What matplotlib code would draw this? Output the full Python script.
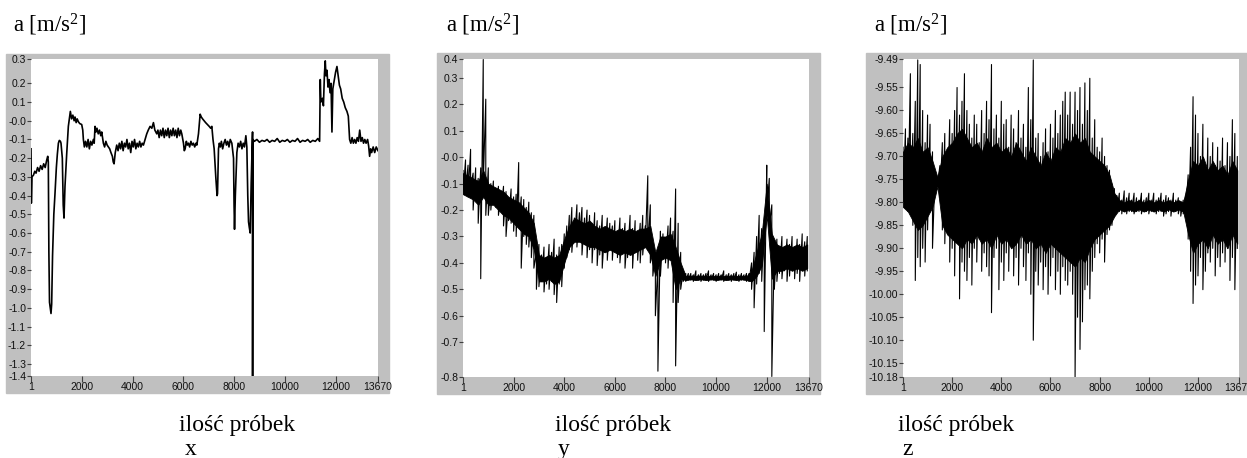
import numpy as np
import matplotlib
matplotlib.use("Agg")
import matplotlib.pyplot as plt
from matplotlib.patches import Rectangle

W, H = 1247, 458  # rozmiar obrazka w pikselach

# ---------------- dane ----------------
# kanal x: numer probki / przyspieszenie
x_samples = [1, 15, 40, 100, 150, 200, 260, 320, 380, 440, 500, 560, 620, 660,
             683, 705, 730, 760, 789, 815, 850, 900, 946, 1000, 1038, 1080, 1117,
             1160, 1183, 1235, 1270, 1301, 1340, 1406, 1472, 1520, 1551, 1600, 1650,
             1700, 1735, 1780, 1820, 1866, 1920, 1998, 2040, 2064, 2103, 2150, 2200,
             2250, 2300, 2350, 2400, 2458, 2490, 2524, 2560, 2600, 2650, 2700, 2750,
             2787, 2852, 2900, 2950, 3000, 3049, 3100, 3150, 3207, 3240, 3273, 3320,
             3378, 3430, 3480, 3530, 3580, 3630, 3680, 3730, 3780, 3830, 3880, 3930,
             3980, 4030, 4080, 4130, 4180, 4230, 4280, 4330, 4380, 4430, 4495, 4560,
             4620, 4692, 4760, 4824, 4880, 4955, 5000, 5050, 5100, 5150, 5200, 5250,
             5300, 5350, 5400, 5450, 5500, 5550, 5600, 5650, 5700, 5750, 5800, 5850,
             5900, 5941, 6007, 6040, 6073, 6120, 6160, 6204, 6250, 6300, 6350, 6400,
             6450, 6500, 6533, 6598, 6640, 6664, 6710, 6760, 6820, 6880, 6950, 7020,
             7080, 7124, 7170, 7216, 7280, 7330, 7348, 7387, 7420, 7460, 7500, 7550,
             7600, 7650, 7700, 7750, 7800, 7850, 7913, 7979, 8000, 8018, 8050, 8110,
             8160, 8210, 8260, 8310, 8360, 8410, 8465, 8504, 8540, 8570, 8600, 8636,
             8675, 8700, 8728, 8730, 8740, 8800, 8900, 9000, 9100, 9200, 9300, 9400,
             9500, 9600, 9700, 9800, 9900, 10000, 10100, 10200, 10300, 10400, 10500,
             10600, 10700, 10800, 10900, 11000, 11100, 11200, 11300, 11370, 11396,
             11420, 11480, 11520, 11560, 11593, 11620, 11660, 11700, 11740, 11780,
             11820, 11856, 11890, 11950, 12000, 12053, 12100, 12150, 12200, 12260,
             12320, 12380, 12447, 12500, 12552, 12600, 12650, 12700, 12750, 12800,
             12850, 12900, 12950, 13000, 13050, 13100, 13150, 13200, 13260, 13302,
             13340, 13380, 13420, 13480, 13540, 13600, 13670]
x_values = [-0.15, -0.44, -0.30, -0.29, -0.27, -0.28, -0.25, -0.27, -0.24, -0.26,
            -0.23, -0.25, -0.21, -0.19, -0.22, -0.70, -0.97, -1.00, -1.03, -0.98,
            -0.72, -0.50, -0.39, -0.25, -0.18, -0.12, -0.105, -0.11, -0.12, -0.20,
            -0.45, -0.52, -0.35, -0.18, -0.03, 0.02, 0.05, 0.01, 0.03, 0.0, 0.02,
            -0.01, 0.01, -0.005, -0.015, -0.02, -0.05, -0.10, -0.14, -0.11, -0.14,
            -0.10, -0.15, -0.11, -0.13, -0.10, -0.12, -0.03, -0.06, -0.04, -0.07,
            -0.05, -0.08, -0.06, -0.12, -0.14, -0.11, -0.13, -0.14, -0.15, -0.17,
            -0.19, -0.22, -0.23, -0.17, -0.13, -0.16, -0.12, -0.15, -0.11, -0.16,
            -0.12, -0.14, -0.10, -0.15, -0.12, -0.17, -0.11, -0.14, -0.10, -0.15,
            -0.12, -0.14, -0.11, -0.14, -0.12, -0.13, -0.10, -0.07, -0.05, -0.03,
            -0.04, -0.01, -0.05, -0.07, -0.05, -0.09, -0.05, -0.08, -0.04, -0.09,
            -0.05, -0.08, -0.04, -0.09, -0.05, -0.08, -0.04, -0.08, -0.05, -0.09,
            -0.04, -0.08, -0.05, -0.07, -0.12, -0.16, -0.15, -0.11, -0.13, -0.12,
            -0.14, -0.11, -0.13, -0.12, -0.14, -0.12, -0.13, -0.07, 0.0, 0.035,
            0.02, 0.01, 0.0, -0.01, -0.02, -0.03, -0.04, -0.03, -0.10, -0.15,
            -0.30, -0.40, -0.39, -0.15, -0.12, -0.14, -0.11, -0.15, -0.12, -0.10,
            -0.13, -0.11, -0.14, -0.10, -0.12, -0.20, -0.45, -0.58, -0.40, -0.17,
            -0.12, -0.14, -0.11, -0.15, -0.12, -0.14, -0.08, -0.14, -0.40, -0.54,
            -0.57, -0.60, -0.33, -0.20, -0.06, -1.40, -0.10, -0.11, -0.10, -0.115,
            -0.105, -0.11, -0.10, -0.115, -0.105, -0.11, -0.095, -0.115, -0.105,
            -0.11, -0.10, -0.115, -0.105, -0.11, -0.095, -0.115, -0.105, -0.11,
            -0.10, -0.115, -0.105, -0.11, -0.095, -0.11, 0.22, 0.10, 0.12, 0.08,
            0.25, 0.32, 0.24, 0.27, 0.18, 0.22, 0.15, 0.20, -0.06, 0.17, 0.22, 0.26,
            0.29, 0.24, 0.19, 0.17, 0.12, 0.10, 0.07, 0.05, 0.025, -0.10, -0.12,
            -0.09, -0.12, -0.10, -0.12, -0.09, -0.11, -0.05, -0.11, -0.09, -0.12,
            -0.10, -0.12, -0.10, -0.135, -0.19, -0.15, -0.17, -0.14, -0.17, -0.14,
            -0.16]

# kanal y: co 100 probek skrajne wartosci szumu (gora / dol)
y_step = 100
y_hi = [-0.05, -0.01, -0.03, 0.03, -0.06, -0.04, -0.08, -0.04, 0.37, 0.22,
        -0.04, -0.10, -0.09, -0.12, -0.11, -0.14, -0.11, -0.13, -0.16, -0.12,
        -0.15, -0.14, -0.02, -0.15, -0.16, -0.19, -0.17, -0.21, -0.22, -0.36,
        -0.33, -0.37, -0.34, -0.38, -0.33, -0.36, -0.31, -0.37, -0.34, -0.33,
        -0.29, -0.26, -0.22, -0.19, -0.23, -0.18, -0.21, -0.19, -0.23, -0.20,
        -0.22, -0.25, -0.21, -0.24, -0.26, -0.22, -0.27, -0.23, -0.25, -0.26,
        -0.24, -0.28, -0.23, -0.27, -0.25, -0.29, -0.22, -0.27, -0.24, -0.28,
        -0.25, -0.22, -0.26, -0.07, -0.18, -0.33, -0.36, -0.40, -0.28, -0.29,
        -0.31, -0.26, -0.23, -0.28, -0.12, -0.25, -0.36, -0.43, -0.44, -0.44,
        -0.44, -0.445, -0.43, -0.445, -0.44, -0.445, -0.44, -0.43, -0.445, -0.44,
        -0.445, -0.44, -0.445, -0.43, -0.445, -0.44, -0.445, -0.44, -0.435, -0.445,
        -0.44, -0.445, -0.44, -0.44, -0.40, -0.36, -0.30, -0.22, -0.27, -0.25,
        -0.03, -0.08, -0.18, -0.33, -0.31, -0.35, -0.30, -0.34, -0.31, -0.33,
        -0.30, -0.34, -0.31, -0.33, -0.29, -0.32, -0.30]
y_lo = [-0.14, -0.12, -0.15, -0.11, -0.20, -0.16, -0.25, -0.46, -0.10, -0.22,
        -0.22, -0.20, -0.16, -0.19, -0.22, -0.20, -0.26, -0.30, -0.24, -0.25,
        -0.28, -0.30, -0.26, -0.42, -0.30, -0.33, -0.34, -0.38, -0.42, -0.50,
        -0.49, -0.47, -0.51, -0.48, -0.50, -0.47, -0.52, -0.55, -0.48, -0.49,
        -0.42, -0.38, -0.35, -0.36, -0.32, -0.34, -0.30, -0.37, -0.33, -0.38,
        -0.35, -0.40, -0.35, -0.41, -0.37, -0.42, -0.36, -0.39, -0.34, -0.39,
        -0.36, -0.38, -0.40, -0.36, -0.42, -0.38, -0.35, -0.42, -0.36, -0.39,
        -0.40, -0.37, -0.34, -0.35, -0.40, -0.45, -0.60, -0.81, -0.45, -0.38,
        -0.40, -0.42, -0.37, -0.55, -0.79, -0.55, -0.50, -0.47, -0.47, -0.465,
        -0.465, -0.47, -0.465, -0.465, -0.47, -0.465, -0.465, -0.47, -0.465, -0.465,
        -0.47, -0.465, -0.465, -0.47, -0.465, -0.465, -0.47, -0.465, -0.465, -0.47,
        -0.465, -0.465, -0.47, -0.47, -0.50, -0.57, -0.48, -0.44, -0.47, -0.66,
        -0.20, -0.26, -0.83, -0.50, -0.47, -0.44, -0.46, -0.43, -0.47, -0.45,
        -0.42, -0.46, -0.44, -0.47, -0.41, -0.45, -0.43]
# gesty rdzen pasma szumu, co 200 probek
core_step = 200
y_core_hi = [-0.06, -0.07, -0.08, -0.09, -0.05, -0.10, -0.11, -0.12, -0.13, -0.15,
             -0.16, -0.17, -0.19, -0.21, -0.25, -0.37, -0.38, -0.37, -0.38, -0.37,
             -0.31, -0.26, -0.23, -0.24, -0.25, -0.24, -0.26, -0.27, -0.26, -0.27,
             -0.28, -0.27, -0.28, -0.27, -0.28, -0.27, -0.27, -0.26, -0.36, -0.30,
             -0.30, -0.29, -0.34, -0.40, -0.45, -0.448, -0.45, -0.448, -0.45, -0.448,
             -0.45, -0.448, -0.45, -0.448, -0.45, -0.448, -0.45, -0.43, -0.36, -0.29,
             -0.10, -0.29, -0.33, -0.34, -0.33, -0.34, -0.33, -0.34, -0.33]
y_core_lo = [-0.14, -0.15, -0.16, -0.18, -0.15, -0.18, -0.18, -0.20, -0.22, -0.23,
             -0.25, -0.27, -0.29, -0.30, -0.35, -0.47, -0.47, -0.46, -0.48, -0.47,
             -0.40, -0.34, -0.32, -0.32, -0.33, -0.34, -0.34, -0.35, -0.36, -0.35,
             -0.36, -0.37, -0.36, -0.37, -0.36, -0.35, -0.34, -0.37, -0.45, -0.39,
             -0.38, -0.39, -0.50, -0.46, -0.465, -0.462, -0.465, -0.462, -0.465, -0.462,
             -0.465, -0.462, -0.465, -0.462, -0.465, -0.462, -0.465, -0.47, -0.45, -0.41,
             -0.22, -0.46, -0.43, -0.43, -0.42, -0.43, -0.42, -0.43, -0.42]

# kanal z
z_step = 100
z_hi = [-9.68, -9.64, -9.66, -9.52, -9.65, -9.58, -9.49, -9.50, -9.60, -9.67,
        -9.61, -9.63, -9.69, -9.74, -9.745, -9.72, -9.67, -9.65, -9.69, -9.62,
        -9.65, -9.60, -9.55, -9.61, -9.58, -9.52, -9.60, -9.63, -9.66, -9.61,
        -9.63, -9.67, -9.60, -9.65, -9.58, -9.62, -9.50, -9.64, -9.61, -9.66,
        -9.58, -9.63, -9.62, -9.68, -9.61, -9.64, -9.67, -9.60, -9.66, -9.63,
        -9.68, -9.55, -9.62, -9.49, -9.66, -9.65, -9.70, -9.67, -9.64, -9.69,
        -9.63, -9.66, -9.60, -9.65, -9.61, -9.58, -9.56, -9.61, -9.56, -9.63,
        -9.56, -9.60, -9.55, -9.63, -9.54, -9.60, -9.53, -9.66, -9.62, -9.68,
        -9.69, -9.66, -9.70, -9.72, -9.73, -9.76, -9.77, -9.785, -9.78, -9.795,
        -9.775, -9.79, -9.78, -9.795, -9.78, -9.79, -9.795, -9.78, -9.795, -9.79,
        -9.78, -9.795, -9.78, -9.795, -9.79, -9.78, -9.795, -9.785, -9.79, -9.795,
        -9.78, -9.795, -9.79, -9.80, -9.795, -9.785, -9.74, -9.68, -9.57, -9.61,
        -9.65, -9.70, -9.63, -9.72, -9.66, -9.70, -9.67, -9.72, -9.68, -9.71,
        -9.66, -9.72, -9.67, -9.70, -9.62, -9.65, -9.70]
z_lo = [-9.80, -9.79, -9.82, -9.80, -9.85, -9.97, -9.92, -9.94, -9.90, -9.93,
        -9.86, -9.82, -9.90, -9.77, -9.765, -9.79, -9.86, -9.89, -9.84, -9.93,
        -9.90, -9.96, -9.88, -10.01, -9.93, -9.95, -9.97, -9.92, -9.98, -9.90,
        -9.93, -9.88, -9.95, -9.91, -9.94, -9.96, -10.04, -9.92, -9.90, -9.99,
        -9.93, -9.97, -9.91, -9.95, -9.89, -9.96, -9.92, -9.98, -9.90, -9.94,
        -9.97, -9.91, -10.00, -10.10, -9.95, -9.98, -9.93, -9.99, -9.94, -10.00,
        -9.96, -9.92, -9.99, -9.95, -10.00, -9.94, -9.97, -9.98, -9.95, -10.00,
        -10.18, -10.05, -10.12, -10.06, -9.99, -9.98, -10.01, -9.95, -9.92, -9.89,
        -9.91, -9.88, -9.93, -9.87, -9.86, -9.85, -9.83, -9.82, -9.82, -9.825,
        -9.82, -9.825, -9.82, -9.82, -9.825, -9.82, -9.82, -9.825, -9.82, -9.82,
        -9.825, -9.82, -9.82, -9.825, -9.82, -9.82, -9.83, -9.825, -9.82, -9.83,
        -9.82, -9.82, -9.825, -9.83, -9.825, -9.82, -9.88, -9.95, -10.02, -9.98,
        -9.96, -9.92, -9.99, -9.95, -9.91, -9.93, -9.90, -9.96, -9.92, -9.94,
        -9.91, -9.93, -9.90, -9.97, -9.92, -9.99, -9.90]
z_core_hi = [-9.69, -9.67, -9.68, -9.66, -9.69, -9.68, -9.71, -9.745, -9.70, -9.68,
             -9.67, -9.65, -9.64, -9.66, -9.68, -9.67, -9.69, -9.66, -9.68, -9.67,
             -9.69, -9.68, -9.70, -9.67, -9.69, -9.71, -9.68, -9.70, -9.72, -9.69,
             -9.71, -9.68, -9.69, -9.66, -9.67, -9.65, -9.67, -9.66, -9.69, -9.70,
             -9.71, -9.72, -9.74, -9.78, -9.795, -9.80, -9.795, -9.80, -9.795, -9.80,
             -9.795, -9.80, -9.795, -9.80, -9.795, -9.80, -9.795, -9.80, -9.75, -9.71,
             -9.72, -9.70, -9.73, -9.71, -9.73, -9.72, -9.74, -9.71, -9.73]
z_core_lo = [-9.81, -9.82, -9.84, -9.86, -9.85, -9.83, -9.81, -9.765, -9.85, -9.87,
             -9.88, -9.89, -9.90, -9.88, -9.89, -9.87, -9.89, -9.88, -9.90, -9.87,
             -9.89, -9.88, -9.90, -9.89, -9.87, -9.89, -9.88, -9.90, -9.89, -9.91,
             -9.89, -9.90, -9.91, -9.92, -9.93, -9.94, -9.92, -9.93, -9.90, -9.88,
             -9.87, -9.86, -9.85, -9.83, -9.815, -9.82, -9.815, -9.82, -9.815, -9.82,
             -9.815, -9.82, -9.815, -9.82, -9.815, -9.82, -9.815, -9.82, -9.87, -9.91,
             -9.89, -9.88, -9.90, -9.87, -9.89, -9.88, -9.90, -9.87, -9.89]

# osie
x_ticks = [1, 2000, 4000, 6000, 8000, 10000, 12000, 13670]
x_ticklabels = ["1", "2000", "4000", "6000", "8000", "10000", "12000", "13670"]

ax_x_ylim = (-1.364, 0.330)
ax_x_yticks = [-1.364, -1.3, -1.2, -1.1, -1.0, -0.9, -0.8, -0.7, -0.6, -0.5, -0.4,
               -0.3, -0.2, -0.1, 0.0, 0.1, 0.2, 0.330]
ax_x_ylabels = ["-1.4", "-1.3", "-1.2", "-1.1", "-1.0", "-0.9", "-0.8", "-0.7", "-0.6",
                "-0.5", "-0.4", "-0.3", "-0.2", "-0.1", "-0.0", "0.1", "0.2", "0.3"]

ax_y_ylim = (-0.832, 0.372)
ax_y_yticks = [-0.832, -0.7, -0.6, -0.5, -0.4, -0.3, -0.2, -0.1, 0.0, 0.1, 0.2, 0.3, 0.372]
ax_y_ylabels = ["-0.8", "-0.7", "-0.6", "-0.5", "-0.4", "-0.3", "-0.2", "-0.1", "-0.0",
                "0.1", "0.2", "0.3", "0.4"]

ax_z_ylim = (-10.18, -9.488)
ax_z_yticks = [-10.18, -10.15, -10.10, -10.05, -10.00, -9.95, -9.90, -9.85, -9.80,
               -9.75, -9.70, -9.65, -9.60, -9.55, -9.488]
ax_z_ylabels = ["-10.18", "-10.15", "-10.10", "-10.05", "-10.00", "-9.95", "-9.90",
                "-9.85", "-9.80", "-9.75", "-9.70", "-9.65", "-9.60", "-9.55", "-9.49"]

axis_names = ["x", "y", "z"]

plt.rcParams['mathtext.fontset'] = 'custom'
plt.rcParams['mathtext.rm'] = 'Liberation Serif'
plt.rcParams['mathtext.it'] = 'Liberation Serif:italic'


def frac(l, t, r, b):
    # piksele -> ulamki figury
    return [l / W, 1 - b / H, (r - l) / W, (b - t) / H]


def zigzag(step, hi, lo):
    # kazda probka to pionowa kreska od gory do dolu szumu
    s = 1 + step * np.arange(len(hi))
    return np.repeat(s, 2), np.column_stack([hi, lo]).ravel()


def core(ax, hi, lo):
    s = 1 + core_step * np.arange(len(hi))
    ax.fill_between(s, hi, lo, color='black', lw=0.6, edgecolor='black')


fig = plt.figure(figsize=(W / 100, H / 100), dpi=100)
fig.patch.set_facecolor('white')

# ramki (szare tlo) i pola wykresow w pikselach
frames = [(6, 54, 389, 393), (437, 53, 820, 394), (866, 53, 1250, 394)]
boxes = [(31, 59, 378, 376), (463, 59, 809, 377), (903, 59, 1239, 377)]
top_lbl_x = [13, 446, 874]
bottom_lbl_x = [179, 555, 898]
name_lbl_x = [185, 558, 902]

axes = []
for i in range(3):
    l, t, r, b = frames[i]
    fig.add_artist(Rectangle((l / W, 1 - b / H), (r - l) / W, (b - t) / H,
                             transform=fig.transFigure, color='#c0c0c0', zorder=-1))
    ax = fig.add_axes(frac(*boxes[i]))
    ax.set_facecolor('white')
    for sp in ax.spines.values():
        sp.set_visible(False)
    ax.set_xlim(1, 13670)
    ax.set_xticks(x_ticks)
    ax.set_xticklabels(x_ticklabels)
    ax.tick_params(axis='both', direction='out', color='#404040', width=0.8,
                   labelsize=7.5, labelcolor='#101010')
    ax.tick_params(axis='x', length=4, pad=0.5)
    ax.tick_params(axis='y', length=3, pad=0.5)
    for lab in ax.get_xticklabels():
        lab.set_family('Liberation Sans')
    axes.append(ax)

    fig.text(top_lbl_x[i] / W, 1 - 32 / H, r"a [m/s$^{2}$]", fontsize=16.5,
             family='Liberation Serif', va='baseline')
    fig.text(bottom_lbl_x[i] / W, 1 - 431 / H, "ilość próbek", fontsize=17,
             family='Liberation Serif', va='baseline')
    fig.text(name_lbl_x[i] / W, 1 - 455 / H, axis_names[i], fontsize=17,
             family='Liberation Serif', va='baseline')

# kanal x
ax = axes[0]
ax.plot(x_samples, x_values, color='black', lw=1.2)
ax.set_ylim(*ax_x_ylim)
ax.set_yticks(ax_x_yticks)
ax.set_yticklabels(ax_x_ylabels, family='Liberation Sans')

# kanal y
ax = axes[1]
core(ax, y_core_hi, y_core_lo)
xs, ys = zigzag(y_step, y_hi, y_lo)
ax.plot(xs, ys, color='black', lw=0.8)
ax.set_ylim(*ax_y_ylim)
ax.set_yticks(ax_y_yticks)
ax.set_yticklabels(ax_y_ylabels, family='Liberation Sans')

# kanal z
ax = axes[2]
core(ax, z_core_hi, z_core_lo)
xs, ys = zigzag(z_step, z_hi, z_lo)
ax.plot(xs, ys, color='black', lw=0.8)
ax.set_ylim(*ax_z_ylim)
ax.set_yticks(ax_z_yticks)
ax.set_yticklabels(ax_z_ylabels, family='Liberation Sans')

fig.savefig('out.png', dpi=100)
